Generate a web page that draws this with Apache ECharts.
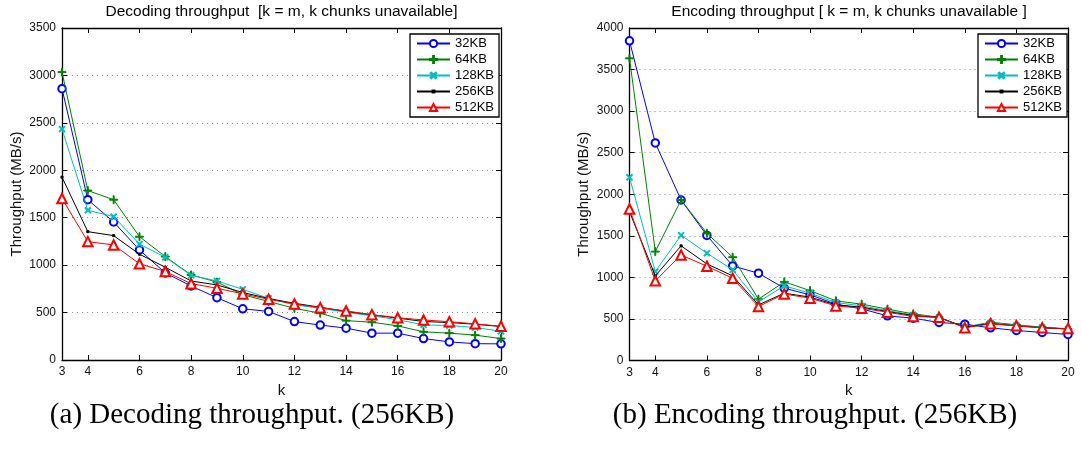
<!DOCTYPE html>
<html>
<head>
<meta charset="utf-8">
<script src="https://cdn.jsdelivr.net/npm/echarts@6/dist/echarts.min.js"></script>
<style>
  html, body { margin: 0; padding: 0; background: #fff; }
  #chart { width: 1081px; height: 455px; }
</style>
</head>
<body>
<div id="chart"></div>
<script>
// k values (k = m)
const kValues = [3, 4, 5, 6, 7, 8, 9, 10, 11, 12, 13, 14, 15, 16, 17, 18, 19, 20];
const chunkSizes = ['32KB', '64KB', '128KB', '256KB', '512KB'];

// Decoding throughput (MB/s)
const dec32  = [2860, 1690, 1455, 1160, 918, 780, 657, 540, 512, 405, 368, 336, 283, 283, 226, 191, 172, 170];
const dec64  = [3035, 1786, 1690, 1300, 1090, 897, 822, 688, 617, 545, 493, 415, 398, 360, 297, 283, 262, 226];
const dec128 = [2434, 1578, 1512, 1222, 1083, 893, 833, 745, 650, 582, 545, 503, 466, 425, 370, 364, 342, 303];
const dec256 = [1927, 1353, 1311, 1115, 978, 833, 791, 712, 648, 598, 556, 512, 476, 442, 406, 395, 377, 353];
const dec512 = [1703, 1248, 1213, 1015, 933, 805, 757, 697, 640, 591, 552, 517, 478, 446, 422, 404, 381, 356];

// Encoding throughput (MB/s)
const enc32  = [3846, 2617, 1931, 1505, 1138, 1050, 870, 790, 678, 621, 537, 509, 457, 437, 393, 361, 337, 313];
const enc64  = [3635, 1310, 1931, 1531, 1243, 738, 946, 841, 718, 678, 618, 561, 521, 401, 461, 429, 401, 377];
const enc128 = [2204, 1070, 1507, 1291, 1090, 705, 898, 810, 697, 657, 601, 549, 517, 401, 453, 421, 397, 377];
const enc256 = [1790, 1018, 1379, 1162, 1018, 669, 810, 762, 670, 641, 589, 541, 517, 401, 445, 417, 393, 381];
const enc512 = [1823, 958, 1270, 1134, 990, 649, 800, 750, 657, 630, 581, 529, 521, 393, 441, 417, 393, 385];

const yTicksDec = { min: 0, max: 3500, interval: 500 };
const yTicksEnc = { min: 0, max: 4000, interval: 500 };

const colors = ['#0000ff', '#008000', '#00bfbf', '#000000', '#ff0000'];
// thin cross, drawn as a filled outline so it scales cleanly
const plusPath = 'path://M4.4,0H5.6V4.4H10V5.6H5.6V10H4.4V5.6H0V4.4H4.4Z';
// small point marker inside a 10x10 box (the move-to corners set the box)
const pointPath = 'path://M0,0M10,10M3.7,3.7H6.3V6.3H3.7Z';
const markers = [
  { symbol: 'emptyCircle', symbolSize: 7.5, symbolRotate: 0, border: 0.8 },
  { symbol: plusPath, symbolSize: 8, symbolRotate: 0, border: 1 },
  { symbol: plusPath, symbolSize: 7.5, symbolRotate: 45, border: 1 },
  { symbol: pointPath, symbolSize: 8, symbolRotate: 0, border: 1 },
  { symbol: 'emptyTriangle', symbolSize: 9.5, symbolRotate: 0, border: 0.8 }
];

const FONT = 'Liberation Sans';
const grids = [
  { left: 62, right: 580, top: 28, bottom: 95 },
  { left: 629.5, right: 13, top: 28, bottom: 94.5 }
];

function xAxes(gridIndex, pos) {
  const isBottom = pos === 'bottom';
  return {
    type: 'category',
    gridIndex: gridIndex,
    position: pos,
    data: kValues,
    boundaryGap: false,
    name: isBottom ? 'k' : '',
    nameLocation: 'middle',
    nameGap: 17,
    nameTextStyle: { fontFamily: FONT, fontSize: 15, color: '#111' },
    axisLine: { show: true, onZero: false, lineStyle: { color: '#000', width: 1.3 } },
    axisTick: {
      show: true, inside: true, length: 5,
      interval: (i, v) => Number(v) % 2 === 0,
      lineStyle: { color: '#000', width: 1 }
    },
    axisLabel: {
      show: isBottom, margin: 6,
      interval: (i, v) => Number(v) === 3 || Number(v) % 2 === 0,
      fontFamily: FONT, fontSize: 12, color: '#111'
    },
    splitLine: { show: false }
  };
}

function yAxes(gridIndex, pos, ticks) {
  const isLeft = pos === 'left';
  return {
    type: 'value',
    gridIndex: gridIndex,
    position: pos,
    min: ticks.min, max: ticks.max, interval: ticks.interval,
    name: isLeft ? 'Throughput (MB/s)' : '',
    nameLocation: 'middle',
    nameGap: 38,
    nameTextStyle: { fontFamily: FONT, fontSize: 15, color: '#111' },
    axisLine: { show: true, onZero: false, lineStyle: { color: '#000', width: 1.3 } },
    axisTick: { show: true, inside: true, length: 5, lineStyle: { color: '#000', width: 1 } },
    axisLabel: {
      show: isLeft, margin: 6, fontFamily: FONT, fontSize: 12, color: '#111',
      formatter: (v) => String(v)
    },
    splitLine: {
      show: isLeft,
      lineStyle: { color: '#8a8a8a', type: [1, 4], width: 1 }
    }
  };
}

function makeSeries(data, idx, gridIdx) {
  const m = markers[idx];
  return {
    name: chunkSizes[idx],
    type: 'line',
    xAxisIndex: gridIdx * 2,
    yAxisIndex: gridIdx * 2,
    data: data,
    symbol: m.symbol,
    symbolSize: m.symbolSize,
    symbolRotate: m.symbolRotate,
    showAllSymbol: true,
    animation: false,
    z: 2 + idx,
    lineStyle: { color: colors[idx], width: 1 },
    itemStyle: { color: colors[idx], borderColor: colors[idx], borderWidth: m.border },
    emphasis: { disabled: true }
  };
}

const decData = [dec32, dec64, dec128, dec256, dec512];
const encData = [enc32, enc64, enc128, enc256, enc512];
const series = [];
decData.forEach((d, i) => series.push(makeSeries(d, i, 0)));
encData.forEach((d, i) => series.push(makeSeries(d, i, 1)));

function legendAt(left) {
  return {
    data: chunkSizes,
    orient: 'vertical',
    left: left, top: 34,
    padding: [2, 5, 2, 6],
    itemWidth: 33, itemHeight: 9, itemGap: 1,
    backgroundColor: '#fff',
    borderColor: '#000', borderWidth: 1.3,
    selectedMode: false,
    textStyle: { fontFamily: FONT, fontSize: 13, color: '#000', lineHeight: 15 }
  };
}

const chart = echarts.init(document.getElementById('chart'), null, { renderer: 'canvas' });
chart.setOption({
  animation: false,
  backgroundColor: '#fff',
  title: [
    {
      text: 'Decoding throughput  [k = m, k chunks unavailable]',
      left: 281.5, top: 4, textAlign: 'center', padding: 0,
      textStyle: { fontFamily: FONT, fontSize: 15.5, fontWeight: 'normal', color: '#000' }
    },
    {
      text: 'Encoding throughput [ k = m, k chunks unavailable ]',
      left: 849, top: 4, textAlign: 'center', padding: 0,
      textStyle: { fontFamily: FONT, fontSize: 15.5, fontWeight: 'normal', color: '#000' }
    }
  ],
  grid: grids,
  xAxis: [xAxes(0, 'bottom'), xAxes(0, 'top'), xAxes(1, 'bottom'), xAxes(1, 'top')],
  yAxis: [yAxes(0, 'left', yTicksDec), yAxes(0, 'right', yTicksDec), yAxes(1, 'left', yTicksEnc), yAxes(1, 'right', yTicksEnc)],
  legend: [legendAt(410), legendAt(978)],
  series: series,
  graphic: [
    {
      type: 'text',
      x: 252, y: 415,
      style: {
        text: '(a) Decoding throughput. (256KB)',
        fontFamily: 'Liberation Serif', fontSize: 29, fill: '#000',
        align: 'center', verticalAlign: 'middle'
      }
    },
    {
      type: 'text',
      x: 815, y: 415,
      style: {
        text: '(b) Encoding throughput. (256KB)',
        fontFamily: 'Liberation Serif', fontSize: 29, fill: '#000',
        align: 'center', verticalAlign: 'middle'
      }
    }
  ]
});
</script>
</body>
</html>
